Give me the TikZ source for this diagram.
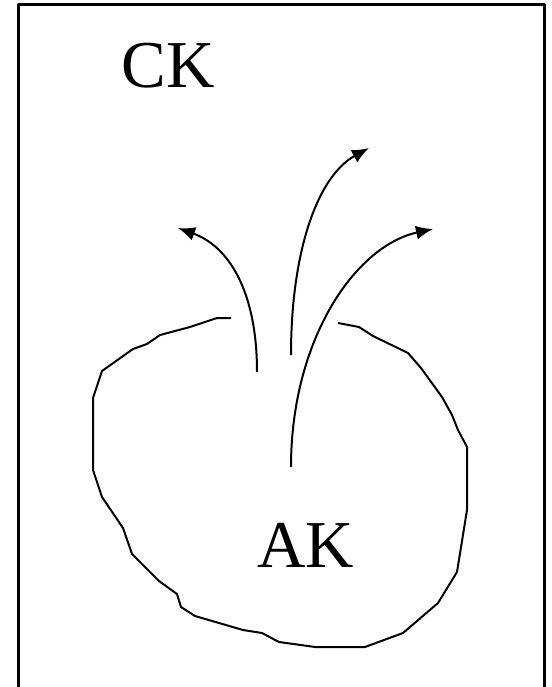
\documentclass[tikz,border=0pt]{standalone}
\usepackage{fontspec}
\setmainfont{Liberation Serif}
\usetikzlibrary{arrows.meta}

\begin{document}
\begin{tikzpicture}[x=1pt,y=-1pt,line join=round,
  every node/.style={font=\fontsize{67}{70}\selectfont},
  flow/.style={line width=2pt,-{Latex[length=17pt,width=14pt]}}]
\useasboundingbox (0,0) rectangle (551,687);
\clip (0,0) rectangle (551,687);
\draw[line width=3pt] (18.5,700) |- (544.7,4.3) -- (544.7,700);
\node (ck) [anchor=base] at (168,88) {CK};
\node (ak) [anchor=base] at (306,567) {AK};
% the ragged outline, left open at the top
\draw[line width=2pt] (231,318) -- (217,318) -- (190,327) -- (160,335) -- (147,344) -- (133,349)
  -- (102,371) -- (93,398) -- (93,470) -- (102,497) -- (123,528) -- (132,554) -- (159,581)
  -- (177,594) -- (181,607) -- (195,616) -- (243,630) -- (262,633) -- (279,642) -- (315,647)
  -- (365,647) -- (403,633) -- (438,603) -- (457,572) -- (467,510) -- (467,447) -- (458,430)
  -- (452,415) -- (442,397) -- (421,368) -- (408,353) -- (373,336) -- (359,327) -- (338,323);
\coordinate (s1) at (257,372); \coordinate (e1) at (178,228);
\coordinate (s2) at (291,355); \coordinate (e2) at (369,148);
\coordinate (s3) at (291,467); \coordinate (e3) at (433,229);
\draw[flow] (s1) .. controls (257,290) and (228,246) .. (e1);
\draw[flow] (s2) .. controls (291,250) and (318,176) .. (e2);
\draw[flow] (s3) .. controls (291,340) and (355,246) .. (e3);
\end{tikzpicture}
\end{document}
